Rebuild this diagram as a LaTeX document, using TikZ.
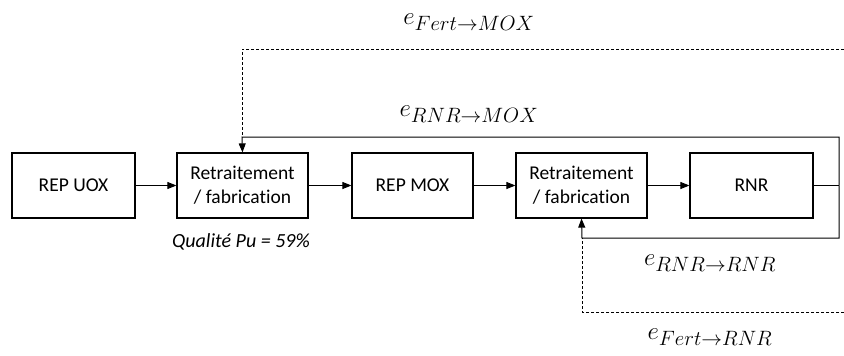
\documentclass[tikz,border=0pt]{standalone}
\usepackage{fontspec}
\setmainfont[Ligatures=NoCommon]{Carlito}
\usetikzlibrary{arrows.meta}
\begin{document}
\begin{tikzpicture}[x=1pt,y=-1pt,
  blk/.style={draw,line width=1.2pt,minimum width=#1,minimum height=65pt,inner sep=0pt,align=center,font=\fontsize{19.5}{24}\selectfont},
  blk/.default=122pt,
  arr/.style={-{Triangle[length=9pt,width=7pt]},line width=1pt},
  ln/.style={line width=1pt},
  dln/.style={line width=0.9pt,dash pattern=on 3pt off 2pt},
  lab/.style={font=\fontsize{31}{36}\selectfont,inner sep=0pt}]
\useasboundingbox (0,0) rectangle (844,356);
\node[blk=123pt] (uox) at (73.5,185.5) {REP UOX};
\node[blk=131pt] (ret1) at (242.5,185.5) {Retraitement\\/ fabrication};
\node[blk=121pt] (mox) at (412.5,185.5) {REP MOX};
\node[blk=131pt] (ret2) at (581.5,185.5) {Retraitement\\/ fabrication};
\node[blk=123pt] (rnr) at (751.5,185.5) {RNR};
\node[font=\fontsize{20}{24}\selectfont\itshape,inner sep=0pt] (q) at (241,242) {Qualité Pu = 59\%};
\draw[arr] (uox) -- (ret1);
\draw[arr] (ret1) -- (mox);
\draw[arr] (mox) -- (ret2);
\draw[arr] (ret2) -- (rnr);
\coordinate (r1) at (839,185.5);
\coordinate (r2) at (839,137);
\coordinate (r3) at (839,238);
\coordinate (t1) at (242,137);
\coordinate (b1) at (582,238);
\draw[ln] (rnr.east) -- (r1);
\draw[arr] (r1) -- (r2) -- (t1) -- (ret1.north);
\draw[arr] (r1) -- (r3) -- (b1) -- (ret2.south);
\coordinate (dt1) at (242,49);
\coordinate (dt2) at (844,49);
\coordinate (db1) at (582,312);
\coordinate (db2) at (844,312);
\draw[dln] (dt2) -- (dt1) -- (t1);
\draw[dln] (db2) -- (db1) -- (b1);
\node[lab] (l1) at (469,22) {$e_{Fert\rightarrow MOX}$};
\node[lab] (l2) at (469,114) {$e_{RNR\rightarrow MOX}$};
\node[lab] (l3) at (710,263) {$e_{RNR\rightarrow RNR}$};
\node[lab] (l4) at (710,337) {$e_{Fert\rightarrow RNR}$};
\end{tikzpicture}
\end{document}
